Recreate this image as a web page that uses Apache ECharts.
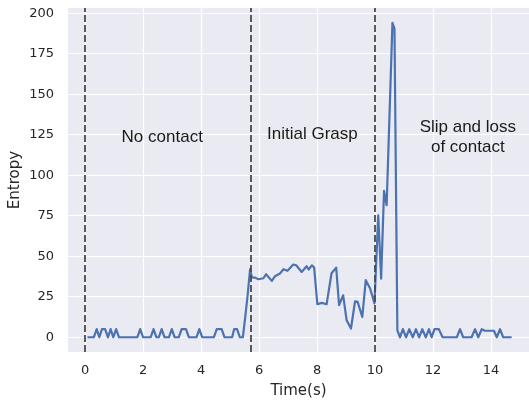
<!DOCTYPE html>
<html>
<head>
<meta charset="utf-8">
<script src="https://cdn.jsdelivr.net/npm/echarts@6/dist/echarts.min.js"></script>
<style>
  html, body { margin: 0; padding: 0; background: #fff; }
  #chart { width: 529px; height: 400px; }
</style>
</head>
<body>
<div id="chart"></div>
<script>
// 时间轴 (s) 与熵值 — 折线顶点
const times = [
  0.08, 0.3, 0.4, 0.49, 0.58, 0.69, 0.79, 0.88, 0.97, 1.07, 1.17,
  1.8, 1.9, 2.0, 2.26, 2.36, 2.46, 2.54, 2.64, 2.74, 2.89, 2.99, 3.09,
  3.23, 3.33, 3.48, 3.58, 3.84, 3.94, 4.04, 4.44, 4.54, 4.71, 4.81,
  5.07, 5.14, 5.24, 5.34, 5.44, 5.52, 5.6, 5.69, 5.75,
  5.86, 5.98, 6.15, 6.24, 6.44, 6.55, 6.72, 6.84, 6.98, 7.18, 7.28,
  7.47, 7.64, 7.71, 7.82, 7.9, 8.01, 8.16, 8.33, 8.5, 8.66, 8.76,
  8.9, 9.02, 9.17, 9.31, 9.4, 9.56, 9.68, 9.83, 9.98,
  10.11, 10.21, 10.31, 10.4, 10.6, 10.67, 10.77, 10.86, 10.96, 11.07,
  11.18, 11.3, 11.41, 11.52, 11.63, 11.75, 11.86, 11.95, 12.05, 12.2,
  12.33, 12.82, 12.93, 13.04, 13.33, 13.45, 13.56, 13.68, 13.79, 14.1,
  14.2, 14.31, 14.42, 14.71
];
const entropy = [
  0, 0, 5, 0, 5, 5, 0, 5, 0, 5, 0,
  0, 5, 0, 0, 5, 0, 0, 5, 0, 0, 5, 0,
  0, 5, 5, 0, 0, 5, 0, 0, 5, 5, 0,
  0, 5, 5, 0, 0, 12, 25, 42, 37,
  36.8, 35.8, 36.4, 38.9, 34.8, 37.7, 39.3, 42, 41, 44.9, 44.4,
  40.3, 43.8, 41.8, 44.4, 43, 20.4, 21.2, 20.4, 39.5, 43, 19.8,
  25.9, 10.5, 5.4, 22.2, 21.8, 12.5, 35.2, 30.1, 20.8,
  75.3, 36.2, 90.3, 81.5, 194, 190.5, 4.3, 0, 5, 0,
  5, 0, 5, 0, 5, 0, 5, 0, 5, 5,
  0, 0, 5, 0, 0, 5, 0, 5, 4, 4,
  0, 5, 0, 0
];

// 阶段分界线
const phaseLines = [0, 5.7, 10];

// 阶段标注
const phaseLabels = ['No contact', 'Initial Grasp', 'Slip and loss\nof contact'];
const phaseLabelPos = [[2.66, 123.6], [7.84, 125.5], [13.2, 123.6]];

const xTicks = [0, 2, 4, 6, 8, 10, 12, 14];
const yTicks = [0, 25, 50, 75, 100, 125, 150, 175, 200];

const chart = echarts.init(document.getElementById('chart'));

const tickFont = { color: '#262626', fontSize: 13, fontFamily: 'DejaVu Sans' };

const option = {
  backgroundColor: '#ffffff',
  animation: false,
  grid: {
    left: 68, right: 0, top: 8, bottom: 48,
    outerBoundsMode: 'none',
    containLabel: false,
    backgroundColor: '#eaeaf2', show: true, borderWidth: 0
  },
  xAxis: {
    type: 'value',
    min: -0.59,
    max: 15.31,
    name: 'Time(s)',
    nameLocation: 'middle',
    nameGap: 32,
    nameMoveOverlap: false,
    nameTextStyle: { color: '#262626', fontSize: 15, fontFamily: 'DejaVu Sans' },
    axisLine: { show: false },
    axisTick: { show: false, customValues: xTicks },
    axisLabel: { ...tickFont, margin: 12, customValues: xTicks },
    splitLine: { show: true, lineStyle: { color: '#ffffff', width: 1.2 } }
  },
  yAxis: {
    type: 'value',
    min: -9.1,
    max: 203.2,
    name: 'Entropy',
    nameLocation: 'middle',
    nameGap: 45,
    nameMoveOverlap: false,
    nameTextStyle: { color: '#262626', fontSize: 15, fontFamily: 'DejaVu Sans' },
    axisLine: { show: false },
    axisTick: { show: false, customValues: yTicks },
    axisLabel: { ...tickFont, margin: 14, customValues: yTicks },
    splitLine: { show: true, lineStyle: { color: '#ffffff', width: 1.2 } }
  },
  series: [{
    type: 'line',
    data: times.map((t, i) => [t, entropy[i]]),
    showSymbol: false,
    lineStyle: { color: '#4c72b0', width: 2.2, join: 'round' },
    itemStyle: { color: '#4c72b0' },
    markLine: {
      silent: true,
      symbol: 'none',
      label: { show: false },
      lineStyle: { color: '#4a4a4a', type: [7, 3], width: 1.8 },
      data: phaseLines.map(v => ({ xAxis: v }))
    },
    markPoint: {
      silent: true,
      symbol: 'circle',
      symbolSize: 0,
      label: {
        show: true,
        position: 'inside',
        color: '#1a1a1a',
        fontSize: 17,
        lineHeight: 20,
        fontFamily: 'Liberation Sans',
        align: 'center',
        formatter: p => p.name
      },
      data: phaseLabels.map((name, i) => ({ name, coord: phaseLabelPos[i] }))
    }
  }]
};

chart.setOption(option);
</script>
</body>
</html>
